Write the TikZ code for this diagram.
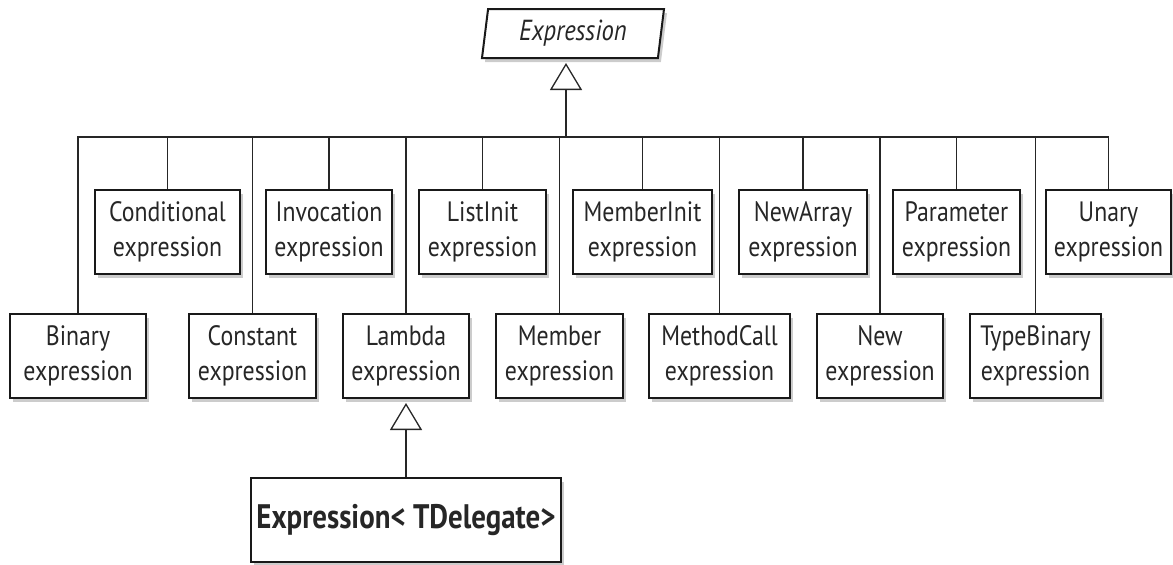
\documentclass[tikz,border=0pt]{standalone}
\usepackage{fontspec}
\setmainfont[FakeStretch=0.85]{PT Sans}
\usetikzlibrary{shapes.geometric,shadows,arrows.meta}
\begin{document}
\begin{tikzpicture}[x=1pt,y=-1pt]
    \tikzset{classe/.style={draw=black!90, line width=2pt, fill=white, align=center, inner sep=0pt, minimum height=84pt, text=black!85, font=\fontsize{28}{35}\selectfont, drop shadow={shadow xshift=3pt, shadow yshift=-4pt, opacity=0.4}}}
    \tikzset{lien/.style={line width=1.3pt, black!85}}
    \tikzset{herite/.style={lien, -{Triangle[open, length=27pt, width=32pt, line width=1.3pt]}, shorten >=4pt}}
    \useasboundingbox (0,0) rectangle (1173,565);
    \node[classe, shape=trapezium, trapezium left angle=77, trapezium right angle=103, trapezium stretches body, minimum width=182pt, minimum height=49pt, font=\fontsize{29}{35}\selectfont\itshape] (expr) at (573,33.5) {Expression};
    \coordinate (hub) at (566,137);
    \node[classe, minimum width=145pt] (cond) at (167.5,232) {Conditional\\expression};
    \node[classe, minimum width=126pt] (invoc) at (329,232) {Invocation\\expression};
    \node[classe, minimum width=127pt] (listinit) at (482.5,232) {ListInit\\expression};
    \node[classe, minimum width=139pt] (memberinit) at (642.5,232) {MemberInit\\expression};
    \node[classe, minimum width=128pt] (newarray) at (803,232) {NewArray\\expression};
    \node[classe, minimum width=127pt] (param) at (956.5,232) {Parameter\\expression};
    \node[classe, minimum width=125pt] (unary) at (1108.5,232) {Unary\\expression};
    \node[classe, minimum width=136pt] (binary) at (78,356) {Binary\\expression};
    \node[classe, minimum width=127pt] (constant) at (252.5,356) {Constant\\expression};
    \node[classe, minimum width=126pt] (lambda) at (406,356) {Lambda\\expression};
    \node[classe, minimum width=127pt] (member) at (559.5,356) {Member\\expression};
    \node[classe, minimum width=141pt] (methodcall) at (719.5,356) {MethodCall\\expression};
    \node[classe, minimum width=126pt] (new) at (880,356) {New\\expression};
    \node[classe, minimum width=131pt] (typebinary) at (1035.5,356) {TypeBinary\\expression};
    \node[classe, minimum width=310pt, font=\fontsize{34}{40}\selectfont\bfseries] (generic) at (406,520) {Expression< TDelegate>};
    \draw[herite] (hub) -- (hub |- expr.south);
    \foreach \n in {binary,cond,constant,invoc,lambda,listinit,member,memberinit,methodcall,newarray,new,param,typebinary,unary}
        \draw[lien] (\n.north) |- (hub);
    \draw[herite] (generic.north) -- (lambda.south);
\end{tikzpicture}
\end{document}
